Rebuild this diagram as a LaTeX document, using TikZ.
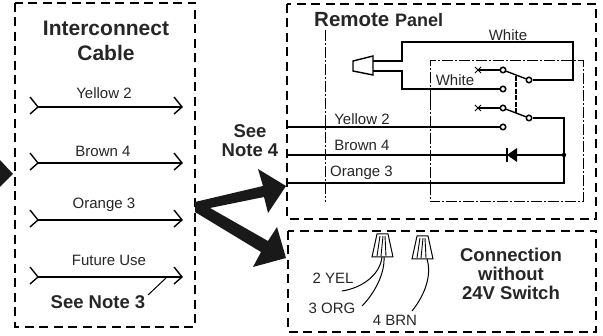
\documentclass[tikz,border=0pt]{standalone}
\usepackage{fontspec}
\setmainfont{Liberation Sans}
\usetikzlibrary{calc}
\tikzset{
	dashbox/.style={line width=1.8pt, dash pattern=on 9pt off 5.5pt},
	dotbox/.style={line width=1pt, dash pattern=on 11pt off 2pt on 2pt off 2pt},
	wire/.style={line width=1.4pt},
	bigarrow/.style={fill=black!90, draw=none},
	contact/.style={circle, draw, line width=1.5pt, fill=white, inner sep=0pt, minimum size=5.5pt},
	label/.style={inner sep=0pt, text=black!85, font=\fontsize{15}{15}\selectfont},
	heading/.style={inner sep=0pt, align=center, text=black!85, font=\fontsize{21}{25}\selectfont\bfseries},
	boldlabel/.style={inner sep=0pt, align=center, text=black!85, font=\fontsize{18.5}{19}\selectfont\bfseries},
}
\begin{document}
\begin{tikzpicture}[x=1pt, y=-1pt]
	\useasboundingbox (0,0) rectangle (603,336);

	% interconnect cable
	\draw[dashbox] (15,3) rectangle (195,327);
	\node[heading] (cabletitle) at (106,41) {Interconnect\\Cable};
	\foreach \name/\ypos/\xlbl/\ylbl/\txt in {yellow/107/104/93/Yellow 2, brown/163/103/151/Brown 4, orange/220/104/205/Orange 3, future/277/109/260/Future Use} {
		\coordinate (\name a) at (38,\ypos);
		\coordinate (\name b) at (182,\ypos);
		\draw[wire] (\name a) -- (\name b);
		\draw[wire] ($(\name a)+(-8,-10)$) -- (\name a) -- ($(\name a)+(-8,7)$);
		\draw[wire] ($(\name b)+(-8,-10)$) -- (\name b) -- ($(\name b)+(-8,7)$);
		\node[label] (\name lbl) at (\xlbl,\ylbl) {\txt};
	}
	\node[boldlabel] (note3) at (98,302) {See Note 3};
	\coordinate (note3tip) at (166,278);
	\draw[line width=1pt] (148,295) -- (note3tip);
	\fill[bigarrow] (0,160) -- (13,174) -- (0,187) -- cycle;

	% remote panel
	\draw[dashbox] (287,4) rectangle (596,219);
	\draw[dotbox] (325,30) -- (325,202);
	\draw[dotbox] (430,100) -- (430,61) -- (583,61) -- (583,202) -- (430,202) -- (430,100);
	\node[inner sep=0pt, anchor=base west, text=black!85] (remote) at (314,27) {\fontsize{20.5}{20}\selectfont\bfseries Remote \fontsize{18}{18}\selectfont Panel};
	\node[label] (white1) at (508,35) {White};
	\node[label] (white2) at (455,80) {White};
	\node[label] (yellowint) at (362,119) {Yellow 2};
	\node[label] (brownint) at (362,145) {Brown 4};
	\node[label] (orangeint) at (361.5,173) {Orange 3};

	\draw[line width=1.4pt, fill=white] (353,61) -- (373,56) -- (373,75) -- (353,71) -- cycle;
	\coordinate (plugt) at (373,61);
	\coordinate (plugb) at (373,71);
	\node[contact] (s1a) at (503,70) {};
	\node[contact] (s1b) at (529,80) {};
	\node[contact] (s1c) at (503,89) {};
	\node[contact] (s2a) at (503,108) {};
	\node[contact] (s2b) at (529,118) {};
	\node[contact] (s2c) at (503,127) {};
	\coordinate (s1x) at (478,70);
	\coordinate (s2x) at (478,108);
	\draw[wire] (plugt) -- (402,61) -- (402,42) -- (573,42) -- (573,80) -- (s1b);
	\draw[wire] (plugb) -- (402,71) -- (402,89) -- (s1c);
	\draw[wire] (s1x) -- (s1a);
	\draw[wire] (s2x) -- (s2a);
	\draw[wire] (s1a) -- (s1b);
	\draw[wire] (s2a) -- (s2b);
	\draw[line width=0.9pt] (475,67) -- (481,73) (475,73) -- (481,67);
	\draw[line width=0.9pt] (475,105) -- (481,111) (475,111) -- (481,105);
	\draw[line width=1.2pt, dash pattern=on 5pt off 1.5pt] (516,76) -- (516,113);
	\coordinate (bus) at (564,155);
	\draw[wire] (s2b) -- (564,118) -- (564,183) -- (287,183);
	\draw[wire] (287,127) -- (s2c);
	\draw[wire] (287,155) -- (bus);
	\fill (bus) circle (2.2pt);
	\fill (507,155) -- (517,148) -- (517,162) -- cycle;
	\draw[line width=1.4pt] (507,148) -- (507,162);

	% see note 4 and big arrows
	\node[boldlabel] (note4) at (250,141) {See\\Note 4};
	\fill[bigarrow] (195,202) -- (263,186) -- (258,169) -- (286,186) -- (268,213) -- (264,197) -- (210,208)
		-- (268,241) -- (277,227) -- (286,258) -- (253,267) -- (261,252) -- (195,212) -- cycle;

	% connection without switch
	\draw[dashbox] (288,231) rectangle (596,332);
	\node[label] (yel) at (333,278) {2 YEL};
	\node[label] (org) at (332,308) {3 ORG};
	\node[label] (brn) at (395,320) {4 BRN};
	\node[boldlabel] (nosw) at (511,274) {Connection\\without\\24V Switch};
	\foreach \xpos/\yoff in {0/0,40/2} {
		\begin{scope}[shift={(\xpos,\yoff)}]
			\draw[line width=1pt] (377,234) -- (388,234) -- (393,257) -- (372,257) -- cycle;
			\draw[line width=0.9pt] (380,236) -- (377,256) (383,236) -- (381,256) (385,236) -- (386,256);
		\end{scope}
	}
	\coordinate (yeltip) at (342,291);
	\coordinate (orgtip) at (362,306);
	\coordinate (brntip) at (412,311);
	\draw[line width=1pt] (382,257) .. controls (380,275) and (362,288) .. (yeltip);
	\draw[line width=1pt] (384,257) .. controls (385,275) and (373,295) .. (orgtip);
	\draw[line width=1pt] (427,259) .. controls (432,275) and (425,295) .. (brntip);
\end{tikzpicture}
\end{document}
